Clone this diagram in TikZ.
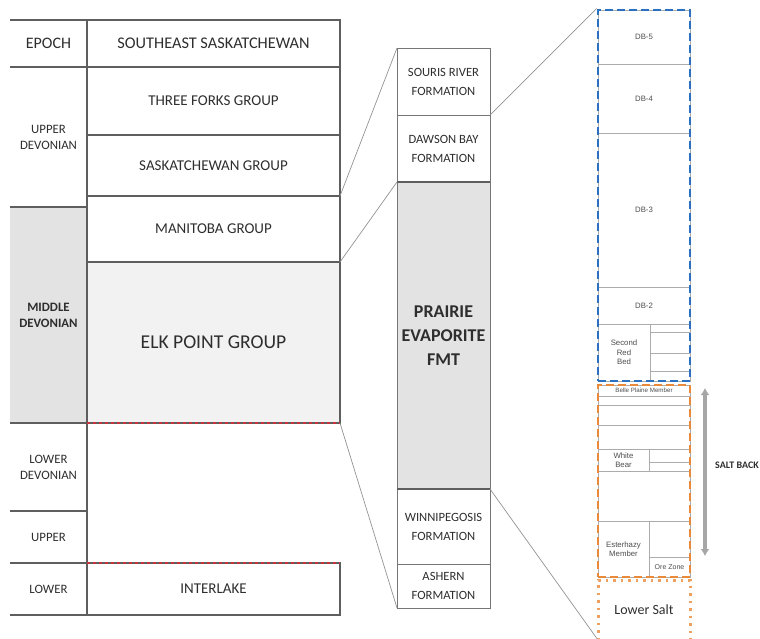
\documentclass[tikz,border=0pt]{standalone}
\usepackage{fontspec}
\setmainfont{Carlito}
\newfontfamily\arialish{Liberation Sans}
\usepackage{xcolor}
\usetikzlibrary{arrows.meta,positioning,fit,backgrounds,calc}
\definecolor{ink}{HTML}{2e2e2e}
\definecolor{rule}{HTML}{5e5e5e}
\definecolor{haze}{HTML}{e3e3e3}
\definecolor{pale}{HTML}{f2f2f2}
\definecolor{dbblue}{HTML}{2a72c0}
\definecolor{saltor}{HTML}{e98a3a}
\definecolor{redline}{HTML}{c8323a}

\begin{document}
\begin{tikzpicture}[x=1pt,y=-1pt,
   ep/.style={inner sep=0pt,outer sep=0pt,minimum width=77pt,text=ink,align=center,font=\fontsize{12.8}{16}\selectfont},
   gr/.style={draw=rule,line width=1.2pt,inner sep=0pt,outer sep=0pt,minimum width=253pt,text=ink,font=\fontsize{15}{17}\selectfont},
   fm/.style={draw=rule!85,line width=0.9pt,inner sep=0pt,outer sep=0pt,minimum width=93pt,text=ink,align=center,font=\fontsize{12.6}{19}\selectfont},
   bd/.style={draw=gray!65,line width=0.6pt,inner sep=0pt,outer sep=0pt,text=ink!85,align=center,font=\arialish\fontsize{7.8}{9.5}\selectfont},
   ln/.style={draw=gray!85,line width=0.7pt}]
  \useasboundingbox (0,0) rectangle (760,638);
  \clip (0,0) rectangle (760,638);

  % left table: epoch column
  \node[ep,minimum height=47pt,font=\fontsize{16}{18}\selectfont] (epoch) at (48.5,43.5) {EPOCH};
  \node[ep,minimum height=140pt] (updev) at (48.5,137) {UPPER\\DEVONIAN};
  \node[ep,minimum height=216pt,fill=haze,font=\bfseries\fontsize{12.8}{16}\selectfont] (middev) at (48.5,315) {MIDDLE\\DEVONIAN};
  \node[ep,minimum height=88pt] (lodev) at (48.5,467) {LOWER\\DEVONIAN};
  \node[ep,minimum height=52pt] (upsil) at (48.5,537) {UPPER};
  \node[ep,minimum height=52pt] (losil) at (48.5,589) {LOWER};
  \draw[rule,line width=1.2pt] (epoch.north west) -- (epoch.north east);
  \foreach \c in {epoch,updev,middev,lodev,upsil,losil}
    \draw[rule,line width=1.2pt] (\c.south west) -- (\c.south east);
  \draw[rule,line width=1.2pt] (epoch.north east) -- (losil.south east);

  % left table: groups
  \node[gr,minimum height=47pt,font=\fontsize{16.3}{18}\selectfont] (sehd) at (213.5,43.5) {SOUTHEAST SASKATCHEWAN};
  \node[gr,minimum height=68pt] (tfk) at (213.5,101) {THREE FORKS GROUP};
  \node[gr,minimum height=61pt] (sask) at (213.5,165.5) {SASKATCHEWAN GROUP};
  \node[gr,minimum height=66pt] (mani) at (213.5,229) {MANITOBA GROUP};
  \node[gr,minimum height=161pt,fill=pale,font=\fontsize{19.6}{24}\selectfont] (elk) at (213.5,342.5) {ELK POINT GROUP};
  \node[gr,minimum height=52pt] (ilk) at (213.5,589) {INTERLAKE};
  \draw[redline,dashed,line width=1.2pt] (elk.south west) -- (elk.south east);
  \draw[redline,dashed,line width=1.2pt] (ilk.north west) -- (ilk.north east);

  % middle column
  \node[fm,minimum height=67pt] (souris) at (443.5,81.5) {SOURIS RIVER\\FORMATION};
  \node[fm,minimum height=67pt] (dawson) at (443.5,148.5) {DAWSON BAY\\FORMATION};
  \node[fm,minimum height=307pt,fill=haze,font=\bfseries\fontsize{18}{24}\selectfont] (prairie) at (443.5,335.5) {PRAIRIE\\EVAPORITE\\FMT};
  \node[fm,minimum height=75pt] (winni) at (443.5,526.5) {WINNIPEGOSIS\\FORMATION};
  \node[fm,minimum height=44pt] (ashern) at (443.5,586) {ASHERN\\FORMATION};
  \draw[rule,line width=1.6pt] (prairie.north west) -- (prairie.north east);
  \draw[rule,line width=1.6pt] (prairie.south west) -- (prairie.south east);

  % right column: Dawson Bay beds
  \node[bd,minimum width=92pt,minimum height=54pt] (db5) at (644,37) {DB-5};
  \node[bd,minimum width=92pt,minimum height=69pt] (db4) at (644,98.5) {DB-4};
  \node[bd,minimum width=92pt,minimum height=154pt] (db3) at (644,210) {DB-3};
  \node[bd,minimum width=92pt,minimum height=37pt] (db2) at (644,305.5) {DB-2};
  \node[bd,minimum width=52pt,minimum height=57pt] (srb) at (624,352.5) {Second\\Red\\Bed};
  \node[bd,minimum width=40pt,minimum height=8pt] (srb1) at (670,328) {};
  \node[bd,minimum width=40pt,minimum height=21pt] (srb2) at (670,342.5) {};
  \node[bd,minimum width=40pt,minimum height=18pt] (srb3) at (670,362) {};
  \node[bd,minimum width=40pt,minimum height=10pt] (srb4) at (670,376) {};
  \node[draw=dbblue,dash pattern=on 8pt off 4pt,line width=2.8pt,inner sep=0pt,fit=(db5)(srb)(srb4)] (dbfrm) {};

  % right column: Prairie Evaporite members
  \node[bd,minimum width=92pt,minimum height=11pt,font=\arialish\fontsize{6.2}{7}\selectfont] (bpm) at (644,390.5) {Belle Plaine Member};
  \node[bd,minimum width=92pt,minimum height=9pt] (pe1) at (644,400.5) {};
  \node[bd,minimum width=92pt,minimum height=20pt] (pe2) at (644,415) {};
  \node[bd,minimum width=92pt,minimum height=24pt] (pe3) at (644,437) {};
  \node[bd,minimum width=51pt,minimum height=22pt] (wb) at (623.5,460) {White\\Bear};
  \node[bd,minimum width=41pt,minimum height=13pt] (wb1) at (669.5,455.5) {};
  \node[bd,minimum width=41pt,minimum height=9pt] (wb2) at (669.5,466.5) {};
  \node[bd,minimum width=92pt,minimum height=50pt] (pe4) at (644,496) {};
  \node[bd,minimum width=51pt,minimum height=56pt] (esth) at (623.5,549) {Esterhazy\\Member};
  \node[bd,minimum width=41pt,minimum height=36pt] (esr) at (669.5,539) {};
  \node[bd,minimum width=41pt,minimum height=20pt,font=\arialish\fontsize{7}{8}\selectfont] (ore) at (669.5,567) {Ore Zone};
  \node[draw=saltor,dash pattern=on 8pt off 4pt,line width=2.8pt,inner sep=0pt,fit=(bpm)(esth)(ore)] (pefrm) {};

  \node[inner sep=0pt,outer sep=0pt,minimum width=92pt,minimum height=60pt,text=ink,font=\fontsize{14}{16}\selectfont] (lsalt) at (644,610) {Lower Salt};
  \draw[saltor!80,line width=3pt,dash pattern=on 2.5pt off 5pt] (lsalt.south west) -- (lsalt.north west) -- (lsalt.north east) -- (lsalt.south east);

  % salt back
  \coordinate (sbt) at (705,388);
  \coordinate (sbb) at (705,556);
  \draw[{Latex[length=7pt,width=9pt]}-{Latex[length=7pt,width=9pt]},line width=3.2pt,gray!70] (sbt) -- (sbb);
  \node[anchor=west,inner sep=0pt,text=ink,font=\bfseries\fontsize{10}{12}\selectfont] (sbtxt) at (715,465) {SALT BACK};

  % links
  \draw[ln] (sask.south east) -- (souris.north west);
  \draw[ln] (mani.south east) -- (prairie.north west);
  \draw[ln] (elk.south east) -- (ashern.south west);
  \draw[ln] (dawson.north east) -- (dbfrm.north west);
  \draw[ln] (winni.north east) -- (lsalt.south west);
\end{tikzpicture}
\end{document}
